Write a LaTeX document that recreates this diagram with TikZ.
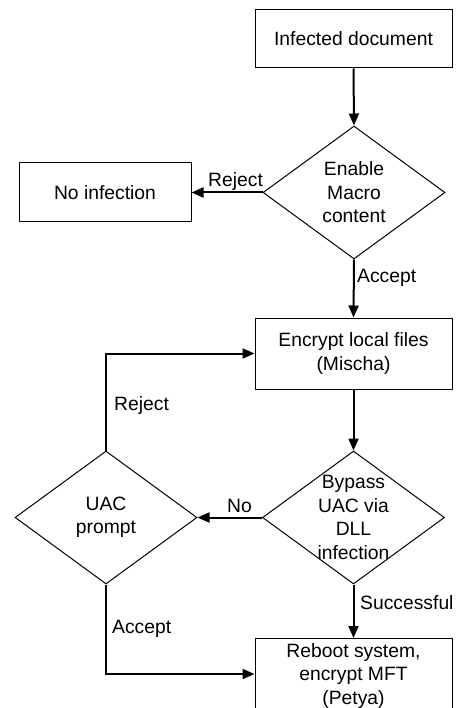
\documentclass[tikz,border=0pt]{standalone}
\usepackage{fontspec}
\setmainfont{Liberation Sans}
\usetikzlibrary{shapes.geometric,arrows.meta}
\begin{document}
\begin{tikzpicture}[x=1pt,y=-1pt,
  font=\fontsize{19.3}{23.5}\selectfont,
  box/.style={draw, line width=1pt, minimum width=197pt, inner sep=0pt, align=center},
  dia/.style={draw, diamond, line width=1pt, minimum width=182pt, minimum height=133pt, inner sep=0pt},
  flow/.style={line width=2pt, -{Triangle[length=12pt,width=10pt]}},
  lab/.style={anchor=base west, inner sep=0pt}]
\useasboundingbox (0,0) rectangle (457,708);
\node[box, minimum height=58pt] (inf) at (353.5,39) {Infected document};
\node[dia, label={[align=center]center:Enable\\Macro\\content}] (en) at (354,192.5) {};
\node[box, minimum width=172pt, minimum height=59pt] (noinf) at (105,192.5) {No infection};
\node[box, minimum height=71pt] (enc) at (353.5,353.5) {Encrypt local files\\(Mischa)};
\node[dia, label={[align=center]center:Bypass\\UAC via\\DLL\\infection}] (byp) at (353.5,517.5) {};
\node[dia, label={[align=center]center:UAC\\prompt}] (uac) at (106,517.5) {};
\node[box, anchor=north, minimum height=90pt] (reb) at (353.5,638) {};
\node[anchor=north, align=center, inner sep=0pt] (rebt) at (353.5,643) {Reboot system,\\encrypt MFT\\(Petya)};
\draw[flow] (inf.south) -- (en.north);
\draw[flow] (en.west) -- (noinf.east);
\draw[flow] (en.south) -- (enc.north);
\draw[flow] (enc.south) -- (byp.north);
\draw[flow] (byp.west) -- (uac.east);
\draw[flow] (byp.south) -- (reb.north);
\draw[flow] (uac.north) |- (enc.west);
\draw[flow] (uac.south) |- ([yshift=-36pt]reb.north west);
\node[lab] (l1) at (208,187) {Reject};
\node[lab] (l2) at (357,282) {Accept};
\node[lab] (l3) at (114,410) {Reject};
\node[lab] (l4) at (227,512) {No};
\node[lab] (l5) at (360,609) {Successful};
\node[lab] (l6) at (112,633) {Accept};
\end{tikzpicture}
\end{document}
